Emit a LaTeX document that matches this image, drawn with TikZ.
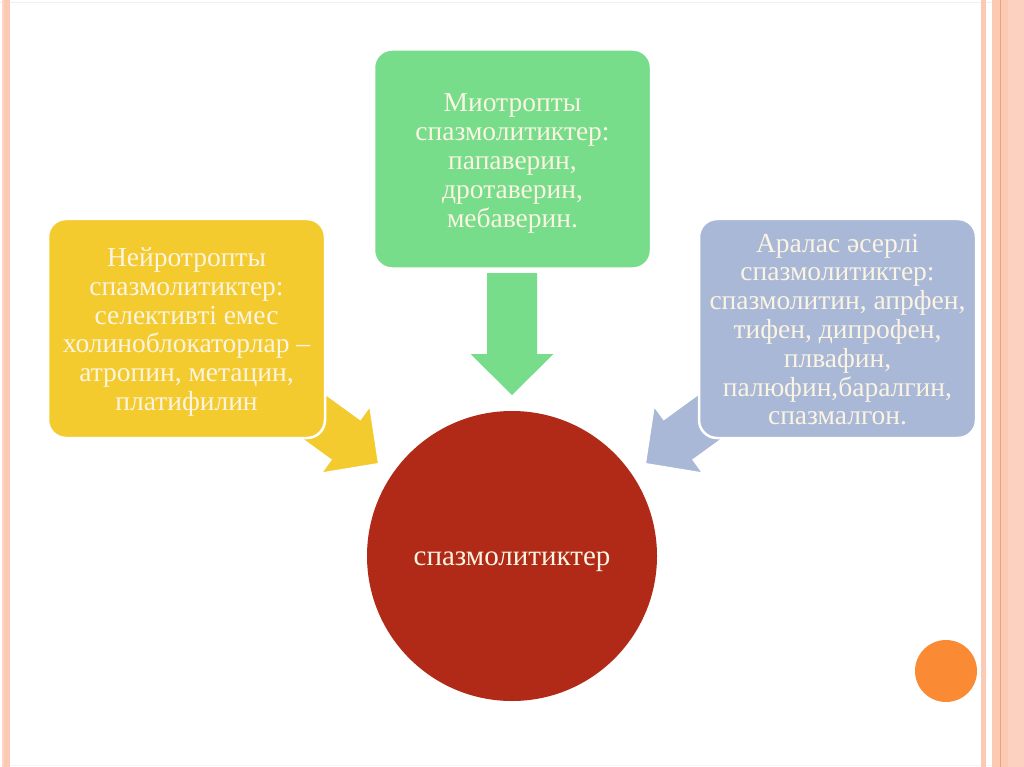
\documentclass[tikz,border=0pt]{standalone}
\usepackage{fontspec}
\setmainfont{Liberation Serif}
\definecolor{boxgreen}{HTML}{77DD8B}
\definecolor{boxyellow}{HTML}{F4CB2E}
\definecolor{boxblue}{HTML}{A9B8D6}
\definecolor{circred}{HTML}{B02A17}
\definecolor{dotorange}{HTML}{FB8A35}
\definecolor{txtcream}{HTML}{FBF4E2}
\definecolor{stripe}{HTML}{FCC9B4}
\definecolor{stripedark}{HTML}{EFA27A}
\definecolor{stripelight}{HTML}{FDD6C6}
\tikzset{
  txt/.style={text=txtcream, font=\fontsize{27.5}{28.8}\selectfont, align=center, inner sep=0pt},
  roundbox/.style={rounded corners=18pt, draw=white, line width=2.5pt, minimum width=277pt, minimum height=219pt, inner sep=0pt},
  blockarrow/.style={draw=white, line width=1.5pt}
}
\begin{document}
\begin{tikzpicture}[x=1pt,y=-1pt]
\useasboundingbox (0,0) rectangle (1024,767);
\fill[white] (0,0) rectangle (1024,767);
% faint frame lines
\draw[black!6, line width=0.8pt] (0,2) -- (1024,2);
\draw[black!4, line width=0.8pt] (0,765) -- (1024,765);
% left stripes
\fill[stripelight] (2,0) rectangle (4,767);
\fill[stripe] (4,0) rectangle (10,767);
% right stripes
\fill[stripe] (981,0) rectangle (985.5,767);
\fill[stripe] (992,0) rectangle (1024,767);
\fill[stripelight!60!stripe] (1008,0) rectangle (1024,767);
\draw[stripedark, line width=1pt] (1000,0) -- (1000,767);
% arrows
\begin{scope}[shift={(280,392)}, rotate=-36]
  \fill[boxyellow, blockarrow] (0,-25) -- (81,-25) -- (81,-41.5) -- (122,0) -- (81,41.5) -- (81,25) -- (0,25) -- cycle;
\end{scope}
\begin{scope}[shift={(744,392)}, rotate=-144]
  \fill[boxblue, blockarrow] (0,-25) -- (81,-25) -- (81,-41.5) -- (122,0) -- (81,41.5) -- (81,25) -- (0,25) -- cycle;
\end{scope}
\fill[boxgreen] (487,273) -- (537,273) -- (537,354) -- (553.5,354) -- (512,395) -- (470.5,354) -- (487,354) -- cycle;
% boxes
\node[roundbox, fill=boxgreen] (miotrop) at (512.5,159) {};
\node[txt] (miotroptxt) at (512.5,163.5) {Миотропты\\спазмолитиктер:\\папаверин,\\дротаверин,\\мебаверин.};
\node[roundbox, fill=boxyellow] (neirotrop) at (186.5,328.5) {};
\node[txt] (neirotroptxt) at (186.5,332) {Нейротропты\\спазмолитиктер:\\селективті емес\\холиноблокаторлар –\\атропин, метацин,\\платифилин};
\node[roundbox, fill=boxblue] (aralas) at (837.5,328.5) {};
\node[txt] (aralastxt) at (837.5,329.5) {Аралас әсерлі\\спазмолитиктер:\\спазмолитин, апрфен,\\тифен, дипрофен,\\плвафин,\\палюфин,баралгин,\\спазмалгон.};
% circle
\node[circle, fill=circred, minimum size=290pt, inner sep=0pt] (center) at (512,556) {};
\node[txt, font=\fontsize{29}{30}\selectfont] (centertxt) at (512,562) {спазмолитиктер};
% orange dot
\fill[dotorange] (946,671) circle (31);
\end{tikzpicture}
\end{document}
